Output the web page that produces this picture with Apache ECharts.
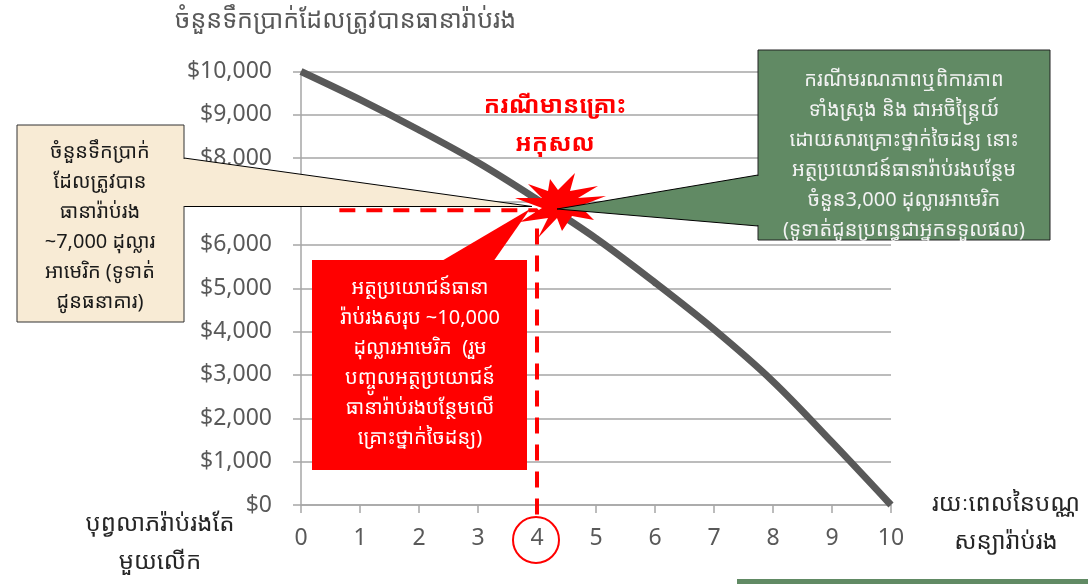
<!DOCTYPE html>
<html>
<head>
<meta charset="utf-8">
<script src="https://cdn.jsdelivr.net/npm/echarts@6/dist/echarts.min.js"></script>
<style>
html,body{margin:0;padding:0;background:#fff;}
#c{width:1088px;height:584px;}
</style>
</head>
<body>
<div id="c"></div>
<script>
// ---- data ----
const years = [0, 1, 2, 3, 4, 5, 6, 7, 8, 9, 10];
const coverage = [10000, 9350, 8650, 7900, 7050, 6150, 5130, 4050, 2850, 1450, 0];
const claimYear = 4;
const claimLevel = 6800;
const guideStartYear = 0.65;
const guideEndLevel = -250;
const hiddenYTick = 7000;

const titleText = 'ចំនួនទឹកប្រាក់ដែលត្រូវបានធានារ៉ាប់រង';
const xNameLeft = ['បុព្វលាភរ៉ាប់រងតែ', 'មួយលើក'];
const xNameRight = ['រយៈពេលនៃបណ្ណ', 'សន្យារ៉ាប់រង'];
const badTitle = ['ករណីមានគ្រោះ', 'អកុសល'];
const beigeLines = ['ចំនួនទឹកប្រាក់', 'ដែលត្រូវបាន', 'ធានារ៉ាប់រង', '~7,000 ដុល្លារ', 'អាមេរិក (ទូទាត់', 'ជូនធនាគារ)'];
const redLines = ['អត្ថប្រយោជន៍ធានា', 'រ៉ាប់រងសរុប ~10,000', 'ដុល្លារអាមេរិក  (រួម', 'បញ្ចូលអត្ថប្រយោជន៍', 'ធានារ៉ាប់រងបន្ថែមលើ', 'គ្រោះថ្នាក់ចៃដន្យ)'];
const greenLines = ['ករណីមរណភាពឬពិការភាព', 'ទាំងស្រុង និង ជាអចិន្ត្រៃយ៍', 'ដោយសារគ្រោះថ្នាក់ចៃដន្យ នោះ', 'អត្ថប្រយោជន៍ធានារ៉ាប់រងបន្ថែម', 'ចំនួន3,000 ដុល្លារអាមេរិក', '(ទូទាត់ជូនប្រពន្ធជាអ្នកទទួលផល)'];

const FONT = '"Noto Sans", "Noto Sans Khmer", "Khmer OS", "Leelawadee UI", sans-serif';
const GRAY = '#595959';
const GRID = '#a6a6a6';
const GREEN = '#618a64';

const chart = echarts.init(document.getElementById('c'));

const curveData = years.map((x, i) => [x, coverage[i]]);
const guideData = [[guideStartYear, claimLevel], [claimYear, claimLevel], [claimYear, guideEndLevel]];

// burst outline (decorative)
const burstCx = 560, burstCy = 206;
const burstPts = [[-45,-8],[-18,-8],[-32,-22],[-12,-15],[-10,-27],[-2,-16],[15,-33],[10,-15],[38,-20],[18,-8],[46,-10],[20,0],[34,14],[12,10],[2,25],[-3,12],[-22,32],[-12,12],[-40,16],[-18,2]]
  .map(p => [burstCx + p[0], burstCy + p[1]]);

function textBlock(lines, cx, y0, lh, color, size, weight) {
  return lines.map((t, i) => ({
    type: 'text', z: 120,
    style: { text: t, x: cx, y: y0 + i * lh, fill: color, font: (weight || 'normal') + ' ' + size + 'px ' + FONT, textAlign: 'center', textVerticalAlign: 'middle' }
  }));
}

const graphics = [
  // beige callout
  { type: 'polygon', z: 100, shape: { points: [[184,158],[532,206.5],[184,206.5]] }, style: { fill: '#f8ebd5', stroke: '#000', lineWidth: 1 } },
  { type: 'rect', z: 101, shape: { x: 17, y: 125, width: 167, height: 197 }, style: { fill: '#f8ebd5', stroke: '#333', lineWidth: 1 } },
  { type: 'rect', z: 102, shape: { x: 182, y: 159, width: 4, height: 47 }, style: { fill: '#f8ebd5' } },
  // red callout
  { type: 'polygon', z: 100, shape: { points: [[440,262],[530,209],[493,262]] }, style: { fill: '#ff0000' } },
  { type: 'rect', z: 101, shape: { x: 312, y: 260, width: 215, height: 210 }, style: { fill: '#ff0000' } },
  // burst
  { type: 'polygon', z: 105, shape: { points: burstPts }, style: { fill: '#ff0000' } },
  // green callout
  { type: 'polygon', z: 106, shape: { points: [[758,175],[557,209],[758,226]] }, style: { fill: GREEN, stroke: '#000', lineWidth: 1 } },
  { type: 'rect', z: 107, shape: { x: 758, y: 50, width: 292, height: 190 }, style: { fill: GREEN, stroke: '#222', lineWidth: 1 } },
  { type: 'rect', z: 108, shape: { x: 756, y: 176, width: 4, height: 49 }, style: { fill: GREEN } },
  // bottom strip
  { type: 'rect', z: 100, shape: { x: 737, y: 579, width: 351, height: 6 }, style: { fill: GREEN } },
  // circle around 4
  { type: 'circle', z: 110, shape: { cx: 536, cy: 540, r: 23 }, style: { fill: 'none', stroke: '#ff0000', lineWidth: 2 } }
]
.concat(textBlock(beigeLines, 100, 152, 30, '#1a1a1a', 20))
.concat(textBlock(redLines, 420, 288, 30, '#ffffff', 20))
.concat(textBlock(greenLines, 904, 80, 30, '#f2f2f2', 20))
.concat(textBlock(badTitle, 555, 106, 38, '#ff0000', 24, 'bold'))
.concat(textBlock(xNameLeft, 160, 524, 38, '#262626', 24))
.concat(textBlock(xNameRight, 1006, 504, 38, '#262626', 24));

chart.setOption({
  animation: false,
  backgroundColor: '#ffffff',
  title: { text: titleText, left: 170, top: 3, textStyle: { fontFamily: FONT, fontSize: 25, fontWeight: 'normal', color: GRAY } },
  grid: { left: 301, right: 197, top: 71.5, bottom: 79, containLabel: false },
  xAxis: {
    type: 'value', min: 0, max: 10, interval: 1,
    axisLine: { show: true, lineStyle: { color: GRID, width: 1.5 } },
    axisTick: { show: true, length: 8, lineStyle: { color: GRID, width: 1.5 } },
    splitLine: { show: false },
    axisLabel: { fontFamily: FONT, fontSize: 23, color: GRAY, margin: 22 }
  },
  yAxis: {
    type: 'value', min: 0, max: 10000, interval: 1000,
    axisLine: { show: true, lineStyle: { color: GRID, width: 1.5 } },
    axisTick: { show: true, length: 8, lineStyle: { color: GRID, width: 1.5 } },
    splitLine: { show: true, lineStyle: { color: GRID, width: 1.5 } },
    axisLabel: {
      fontFamily: FONT, fontSize: 23, color: GRAY, margin: 29,
      formatter: v => v === hiddenYTick ? '' : '$' + v.toLocaleString('en-US')
    }
  },
  series: [
    {
      type: 'line', data: curveData, smooth: 0.35, symbol: 'none', z: 3,
      lineStyle: { color: GRAY, width: 7, cap: 'butt' }
    },
    {
      type: 'line', data: guideData, smooth: false, symbol: 'none', z: 4, clip: false,
      lineStyle: { color: '#ff0000', width: 4, type: [16, 11] }
    }
  ],
  graphic: graphics
});
</script>
</body>
</html>
